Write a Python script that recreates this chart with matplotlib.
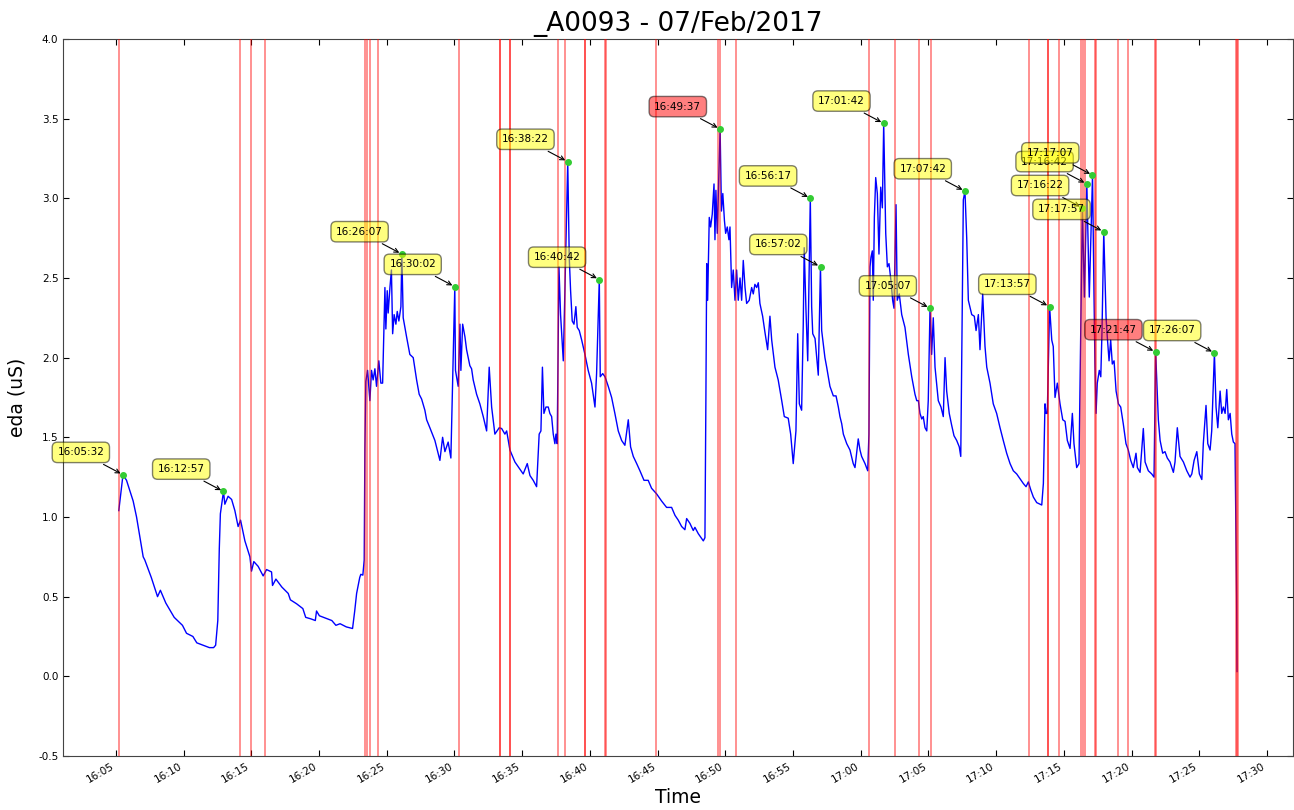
import numpy as np
import matplotlib
matplotlib.use('Agg')
import matplotlib.pyplot as plt
import matplotlib.dates as mdates
from datetime import datetime, timedelta

# eda trace, time in minutes after 16:00 on 07/Feb/2017
eda_min = [5.22, 5.53, 5.79, 6.28, 6.53, 7.02, 7.14, 7.62, 8.08, 8.29, 8.69, 9.31, 9.92, 10.22,
           10.69, 10.98, 11.45, 11.91, 12.22, 12.37, 12.53, 12.64, 12.72, 12.95, 13.05, 13.29,
           13.55, 13.79, 14.03, 14.21, 14.53, 14.90, 15.02, 15.19, 15.51, 15.88, 16.13, 16.50,
           16.57, 16.82, 17.26, 17.73, 17.89, 18.35, 18.81, 19.02, 19.42, 19.73, 19.82, 20.03,
           20.64, 20.95, 21.25, 21.56, 22.02, 22.48, 22.64, 22.78, 23.01, 23.09, 23.24, 23.34,
           23.39, 23.46, 23.59, 23.76, 23.88, 24.00, 24.13, 24.25, 24.42, 24.57, 24.70, 24.87,
           24.94, 25.04, 25.11, 25.24, 25.35, 25.44, 25.55, 25.68, 25.78, 25.90, 26.05, 26.12,
           26.22, 26.47, 26.71, 26.96, 27.21, 27.40, 27.58, 27.82, 27.95, 28.19, 28.56, 28.80,
           28.93, 29.13, 29.30, 29.54, 29.74, 30.03, 30.08, 30.16, 30.28, 30.41, 30.48, 30.61,
           30.78, 30.90, 31.14, 31.27, 31.39, 31.64, 31.88, 32.13, 32.38, 32.57, 32.75, 32.99,
           33.31, 33.49, 33.73, 33.86, 34.10, 34.47, 34.84, 35.08, 35.38, 35.58, 35.82, 36.07,
           36.26, 36.39, 36.50, 36.61, 36.76, 36.93, 37.05, 37.18, 37.30, 37.42, 37.50, 37.59,
           37.72, 37.84, 38.04, 38.16, 38.37, 38.48, 38.58, 38.70, 38.83, 38.97, 39.07, 39.22,
           39.40, 39.64, 39.88, 40.13, 40.38, 40.50, 40.70, 40.77, 40.95, 41.12, 41.36, 41.61,
           41.85, 42.10, 42.35, 42.59, 42.84, 43.01, 43.21, 43.46, 43.70, 44.00, 44.31, 44.56,
           44.93, 45.30, 45.67, 46.04, 46.29, 46.53, 46.78, 47.02, 47.15, 47.39, 47.64, 47.76,
           48.01, 48.38, 48.50, 48.57, 48.63, 48.70, 48.82, 48.92, 49.04, 49.17, 49.24, 49.31,
           49.41, 49.62, 49.72, 49.82, 49.94, 50.03, 50.15, 50.27, 50.35, 50.47, 50.59, 50.72,
           50.84, 50.96, 51.09, 51.21, 51.33, 51.46, 51.58, 51.77, 51.95, 52.07, 52.19, 52.32,
           52.44, 52.56, 52.76, 52.93, 53.13, 53.30, 53.43, 53.67, 53.91, 54.17, 54.36, 54.65,
           54.83, 55.02, 55.22, 55.35, 55.47, 55.64, 55.76, 55.83, 55.96, 56.09, 56.28, 56.38,
           56.46, 56.63, 56.87, 57.03, 57.12, 57.36, 57.49, 57.73, 57.98, 58.18, 58.35, 58.47,
           58.60, 58.72, 58.97, 59.21, 59.45, 59.58, 59.82, 59.95, 60.07, 60.32, 60.52, 60.61,
           60.69, 60.76, 60.86, 60.93, 61.01, 61.11, 61.23, 61.35, 61.48, 61.60, 61.70, 61.85,
           61.97, 62.09, 62.24, 62.36, 62.46, 62.61, 62.70, 62.85, 63.03, 63.27, 63.52, 63.77,
           64.01, 64.14, 64.26, 64.38, 64.51, 64.62, 64.75, 64.88, 64.99, 65.12, 65.24, 65.36,
           65.49, 65.73, 65.93, 66.10, 66.23, 66.35, 66.54, 66.72, 66.89, 67.09, 67.28, 67.39,
           67.58, 67.70, 67.83, 67.95, 68.20, 68.39, 68.52, 68.69, 68.81, 69.01, 69.18, 69.31,
           69.55, 69.79, 70.04, 70.29, 70.53, 70.78, 71.03, 71.27, 71.52, 71.77, 72.01, 72.21,
           72.38, 72.56, 72.75, 73.00, 73.37, 73.49, 73.61, 73.69, 73.78, 73.95, 74.11, 74.22,
           74.35, 74.52, 74.72, 74.92, 75.09, 75.26, 75.46, 75.63, 75.75, 75.95, 76.12, 76.37,
           76.52, 76.70, 76.88, 77.12, 77.23, 77.30, 77.38, 77.47, 77.62, 77.73, 77.82, 77.95,
           78.12, 78.21, 78.34, 78.46, 78.58, 78.71, 78.86, 79.03, 79.20, 79.39, 79.59, 79.76,
           79.94, 80.13, 80.33, 80.43, 80.63, 80.87, 81.00, 81.24, 81.49, 81.66, 81.78, 81.98,
           82.11, 82.30, 82.47, 82.64, 82.84, 83.09, 83.21, 83.38, 83.58, 83.83, 84.08, 84.32,
           84.45, 84.62, 84.82, 85.01, 85.19, 85.30, 85.50, 85.63, 85.80, 85.92, 86.12, 86.24,
           86.37, 86.54, 86.66, 86.78, 86.91, 87.03, 87.15, 87.28, 87.40, 87.52, 87.64, 87.76,
           87.79]
eda_val = [1.04, 1.265, 1.23, 1.10, 1.00, 0.75, 0.73, 0.62, 0.50, 0.54, 0.46, 0.37, 0.32, 0.27,
           0.25, 0.21, 0.195, 0.18, 0.18, 0.195, 0.35, 0.80, 1.02, 1.16, 1.08, 1.13,
           1.11, 1.04, 0.94, 0.98, 0.85, 0.75, 0.66, 0.72, 0.69, 0.63, 0.67, 0.655,
           0.57, 0.61, 0.56, 0.52, 0.48, 0.455, 0.425, 0.37, 0.36, 0.35, 0.41, 0.38,
           0.36, 0.35, 0.32, 0.33, 0.31, 0.30, 0.41, 0.52, 0.62, 0.64, 0.635, 0.73,
           1.42, 1.85, 1.92, 1.73, 1.92, 1.86, 1.93, 1.82, 1.98, 1.84, 1.84, 2.44,
           2.18, 2.42, 2.28, 2.44, 2.55, 2.15, 2.27, 2.21, 2.29, 2.23, 2.32, 2.65,
           2.25, 2.13, 2.02, 2.00, 1.86, 1.77, 1.74, 1.67, 1.61, 1.56, 1.48, 1.40,
           1.355, 1.50, 1.41, 1.47, 1.37, 2.445, 1.92, 1.88, 1.82, 2.21, 1.92, 2.21,
           2.13, 2.05, 1.95, 1.93, 1.86, 1.77, 1.71, 1.63, 1.54, 1.94, 1.69, 1.52,
           1.56, 1.555, 1.52, 1.54, 1.42, 1.345, 1.30, 1.27, 1.335, 1.26, 1.23, 1.19,
           1.52, 1.54, 1.94, 1.65, 1.69, 1.69, 1.65, 1.63, 1.52, 1.46, 1.52, 1.46,
           2.57, 2.27, 1.98, 2.42, 3.23, 2.63, 2.42, 2.23, 2.21, 2.32, 2.19, 2.17,
           2.11, 2.02, 1.92, 1.84, 1.69, 1.90, 2.49, 1.88, 1.90, 1.88, 1.82, 1.75,
           1.65, 1.54, 1.48, 1.45, 1.61, 1.44, 1.38, 1.335, 1.29, 1.23, 1.23, 1.18,
           1.145, 1.10, 1.06, 1.06, 1.01, 0.98, 0.94, 0.92, 0.99, 0.96, 0.915, 0.935,
           0.895, 0.85, 0.87, 1.73, 2.59, 2.36, 2.88, 2.82, 2.90, 3.09, 2.74, 3.05,
           2.78, 3.435, 2.92, 3.03, 2.86, 2.78, 2.82, 2.74, 2.82, 2.44, 2.55, 2.36,
           2.55, 2.36, 2.50, 2.36, 2.61, 2.44, 2.34, 2.36, 2.44, 2.40, 2.46, 2.44,
           2.47, 2.34, 2.26, 2.16, 2.05, 2.26, 2.11, 1.94, 1.86, 1.73, 1.63, 1.62,
           1.52, 1.335, 1.54, 2.15, 1.71, 1.67, 2.21, 2.69, 2.30, 1.98, 3.00, 2.32,
           2.15, 2.12, 1.89, 2.57, 2.17, 2.00, 1.94, 1.82, 1.76, 1.76, 1.69, 1.63,
           1.585, 1.52, 1.46, 1.42, 1.335, 1.31, 1.49, 1.42, 1.38, 1.335, 1.29, 1.52,
           2.57, 2.63, 2.67, 2.36, 2.88, 3.13, 3.03, 2.65, 3.07, 2.94, 3.47, 2.78,
           2.57, 2.59, 2.48, 2.36, 2.31, 2.96, 2.36, 2.40, 2.27, 2.19, 2.02, 1.88,
           1.77, 1.73, 1.73, 1.65, 1.615, 1.63, 1.56, 1.54, 1.73, 2.31, 2.02, 2.25,
           1.94, 1.73, 1.69, 1.63, 2.00, 1.79, 1.65, 1.575, 1.51, 1.48, 1.44, 1.38,
           2.99, 3.045, 2.75, 2.36, 2.27, 2.26, 2.17, 2.27, 2.05, 2.40, 2.07, 1.94,
           1.84, 1.71, 1.65, 1.56, 1.48, 1.40, 1.335, 1.29, 1.27, 1.24, 1.21, 1.19,
           1.22, 1.17, 1.125, 1.09, 1.075, 1.21, 1.71, 1.65, 1.65, 2.32, 2.11, 2.07,
           1.75, 1.84, 1.71, 1.61, 1.60, 1.48, 1.43, 1.65, 1.46, 1.31, 1.335, 2.94,
           2.38, 3.09, 2.38, 3.145, 2.38, 1.96, 1.65, 1.84, 1.92, 1.88, 2.17, 2.79,
           2.25, 2.13, 1.98, 2.11, 1.96, 1.98, 1.79, 1.71, 1.69, 1.585, 1.46, 1.42,
           1.355, 1.31, 1.40, 1.31, 1.28, 1.555, 1.345, 1.29, 1.27, 1.25, 2.035, 1.61,
           1.48, 1.40, 1.41, 1.37, 1.345, 1.28, 1.345, 1.56, 1.38, 1.345, 1.29, 1.25,
           1.27, 1.355, 1.41, 1.27, 1.235, 1.46, 1.70, 1.46, 1.42, 1.54, 2.03, 1.69,
           1.56, 1.79, 1.65, 1.69, 1.65, 1.80, 1.61, 1.65, 1.52, 1.47, 1.46, 0.50,
           0.03]

# marked events (minutes after 16:00)
event_min = [5.24, 14.16, 14.99, 16.00, 23.39, 23.52, 23.76, 24.35, 30.33,
             33.38, 33.39, 34.12, 34.13, 37.67, 38.18, 39.62, 39.66, 41.14, 41.20,
             44.88, 49.48, 49.61, 50.77, 60.64, 62.56, 64.33, 65.19, 72.45,
             73.83, 73.84, 74.62, 76.27, 76.44, 76.54, 77.31, 77.35, 79.00, 79.74,
             81.74, 81.78, 87.72, 87.80, 87.87]

# annotated peaks
peak_labels = ['16:05:32', '16:12:57', '16:26:07', '16:30:02', '16:38:22', '16:40:42',
               '16:49:37', '16:56:17', '16:57:02', '17:01:42', '17:05:07', '17:07:42',
               '17:13:57', '17:16:22', '17:16:42', '17:17:07', '17:17:57', '17:21:47',
               '17:26:07']
peak_val = [1.265, 1.16, 2.65, 2.445, 3.23, 2.49, 3.435, 3.00, 2.57, 3.47, 2.31, 3.045,
            2.32, 2.94, 3.09, 3.145, 2.79, 2.035, 2.03]
alarm_labels = ['16:49:37', '17:21:47']

day = datetime(2017, 2, 7)
t0 = day + timedelta(hours=16)
eda_t = [t0 + timedelta(minutes=m) for m in eda_min]
event_t = [t0 + timedelta(minutes=m) for m in event_min]
peak_t = [datetime.strptime('2017-02-07 ' + s, '%Y-%m-%d %H:%M:%S') for s in peak_labels]

fig = plt.figure(figsize=(12.94, 8.10), dpi=100)
ax = fig.add_axes([0.0489, 0.0667, 0.9503, 0.8852])

ax.plot(eda_t, eda_val, color='blue', lw=1.0, zorder=2)
for t in event_t:
    ax.axvline(t, color='red', alpha=0.55, lw=1.1, zorder=3)

ax.plot(peak_t, peak_val, 'o', color='#33cc33', mec='#33cc33', ms=4, zorder=4)
for lab, t, v in zip(peak_labels, peak_t, peak_val):
    fc = 'red' if lab in alarm_labels else 'yellow'
    ax.annotate(lab, xy=(t, v), xytext=(-13.5, 12.5), textcoords='offset points',
                ha='right', va='bottom', fontsize=7.5, zorder=5,
                bbox=dict(boxstyle='round,pad=0.5', fc=fc, alpha=0.5),
                arrowprops=dict(arrowstyle='->', connectionstyle='arc3,rad=0', lw=0.8))

ax.set_xlim(t0 + timedelta(minutes=1.12), t0 + timedelta(minutes=91.92))
ax.set_ylim(-0.5, 4.0)
ax.set_yticks(np.arange(-0.5, 4.01, 0.5))
ax.yaxis.set_major_formatter(matplotlib.ticker.FormatStrFormatter('%.1f'))
ax.xaxis.set_major_locator(mdates.MinuteLocator(byminute=range(0, 60, 5)))
ax.xaxis.set_major_formatter(mdates.DateFormatter('%H:%M'))
ax.tick_params(direction='in', top=True, right=True, labelsize=7.5, length=4, width=0.8)
for lbl in ax.get_xticklabels():
    lbl.set_rotation(30)
    lbl.set_ha('right')
for s in ax.spines.values():
    s.set_color('#444444')

ax.set_title('_A0093 - 07/Feb/2017', fontsize=19)
ax.set_ylabel('eda (uS)', fontsize=13.5)
ax.set_xlabel('Time', fontsize=13.5)
ax.yaxis.set_label_coords(-0.03, 0.5)
ax.xaxis.set_label_coords(0.5, -0.045)

fig.savefig('out.png', dpi=100)
